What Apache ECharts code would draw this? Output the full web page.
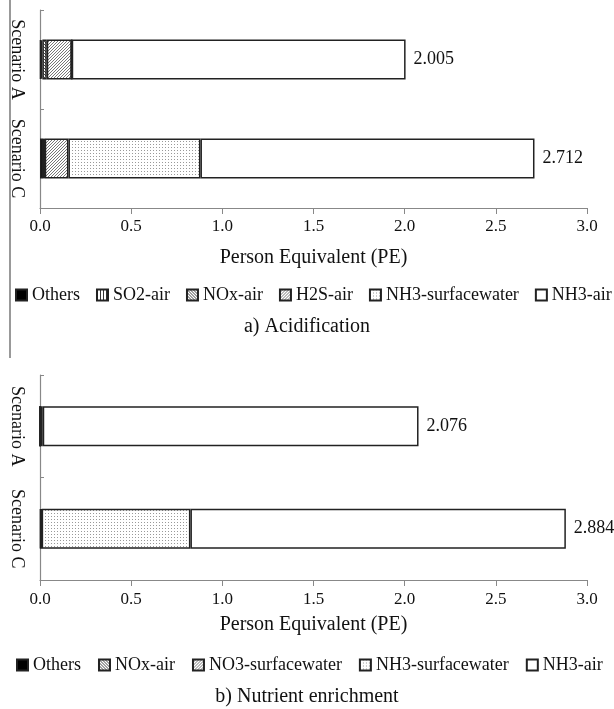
<!DOCTYPE html>
<html style="height: 100%;margin: 0;padding: 0;">
<head>
    <meta charset="utf-8">
    <title>Acidification / Nutrient enrichment</title>
    <script src="https://cdn.jsdelivr.net/npm/echarts@6/dist/echarts.min.js"></script>
</head>
<body style="margin:0;padding:0;background:#fff;">
<div id="main" style="width:614px;height:709px;"></div>
<script type="text/javascript">
// categories (top to bottom)
var scenarios = ['Scenario A', 'Scenario C'];
var xTicks = [0, 0.5, 1.0, 1.5, 2.0, 2.5, 3.0];

// a) Acidification, PE
var acidNames = ['Others', 'SO2-air', 'NOx-air', 'H2S-air', 'NH3-surfacewater', 'NH3-air'];
var acidOthers = [0.005, 0.018];
var acidSO2 = [0.008, 0.004];
var acidNOx = [0.024, 0.004];
var acidH2S = [0.137, 0.130];
var acidNH3sw = [0, 0.724];
var acidNH3air = [1.831, 1.832];
var acidTotal = [2.005, 2.712];

// b) Nutrient enrichment, PE
var nutNames = ['Others', 'NOx-air', 'NO3-surfacewater', 'NH3-surfacewater', 'NH3-air'];
var nutOthers = [0, 0.004];
var nutNOx = [0, 0.002];
var nutNO3 = [0, 0.003];
var nutNH3sw = [0.015, 0.816];
var nutNH3air = [2.061, 2.059];
var nutTotal = [2.076, 2.884];

var FONT = "'Liberation Serif', 'Times New Roman', serif";

// little canvas patterns for the hatched fills
function makePattern(kind) {
    var c = document.createElement('canvas');
    var s = 3;
    c.width = s; c.height = s;
    var g = c.getContext('2d');
    g.fillStyle = '#fff';
    g.fillRect(0, 0, s, s);
    if (kind == 'vert') { g.fillStyle = '#333'; g.fillRect(0, 0, 1, s); }
    if (kind == 'dots') { g.fillStyle = '#999'; g.fillRect(0, 0, 1, 1); }
    if (kind == 'back' || kind == 'fwd') {
        g.strokeStyle = kind == 'back' ? '#444' : '#777';
        g.lineWidth = 1;
        g.beginPath();
        for (var k = -s; k <= 2 * s; k += s) {
            if (kind == 'back') { g.moveTo(k, 0); g.lineTo(k + s, s); }
            else { g.moveTo(k, s); g.lineTo(k + s, 0); }
        }
        g.stroke();
    }
    return { image: c, repeat: 'repeat' };
}
var fills = {
    'Others': '#000',
    'SO2-air': makePattern('vert'),
    'NOx-air': makePattern('back'),
    'H2S-air': makePattern('fwd'),
    'NO3-surfacewater': makePattern('fwd'),
    'NH3-surfacewater': makePattern('dots'),
    'NH3-air': '#fff'
};

function seg(name, data, idx, stack, totals) {
    var s = {
        name: name, type: 'bar', stack: stack,
        xAxisIndex: idx, yAxisIndex: idx,
        barWidth: 40,
        data: data,
        itemStyle: { color: fills[name], borderColor: '#222', borderWidth: 1.5 },
        emphasis: { disabled: true }
    };
    if (totals) {
        s.label = {
            show: true, position: 'right', distance: 8,
            fontFamily: FONT, fontSize: 18, color: '#111',
            formatter: function (p) { return totals[p.dataIndex].toFixed(3); }
        };
    }
    return s;
}

function xAxisCfg(idx, margin, gap) {
    return {
        gridIndex: idx, type: 'value', min: 0, max: 3, interval: 0.5,
        axisLine: { show: true, lineStyle: { color: '#888', width: 1.2 } },
        axisTick: { show: true, length: 6, lineStyle: { color: '#888' } },
        splitLine: { show: false },
        axisLabel: {
            margin: margin, fontFamily: FONT, fontSize: 17, color: '#111',
            customValues: xTicks,
            formatter: function (v) { return v.toFixed(1); }
        },
        name: 'Person Equivalent (PE)', nameLocation: 'middle', nameGap: gap,
        nameTextStyle: { fontFamily: FONT, fontSize: 20, color: '#111' }
    };
}
function yAxisCfg(idx) {
    return {
        gridIndex: idx, type: 'category', data: scenarios, inverse: true,
        axisLine: { show: true, lineStyle: { color: '#888', width: 1.2 } },
        axisTick: { show: true, inside: true, length: 4, lineStyle: { color: '#888' } },
        axisLabel: { interval: 0, hideOverlap: false, rotate: -90, margin: 14,
                     fontFamily: FONT, fontSize: 18, color: '#111' }
    };
}

var myChart = echarts.init(document.getElementById('main'));
var option = {
    animation: false,
    backgroundColor: '#fff',
    title: [
        { text: 'a) Acidification', left: 'center', top: 312,
          textStyle: { fontFamily: FONT, fontSize: 20, fontWeight: 'normal', color: '#111' } },
        { text: 'b) Nutrient enrichment', left: 'center', top: 682,
          textStyle: { fontFamily: FONT, fontSize: 20, fontWeight: 'normal', color: '#111' } }
    ],
    legend: [
        { data: acidNames, left: 15, top: 286, width: 599, padding: 0,
          itemWidth: 11, itemHeight: 11, itemGap: 16,
          icon: 'rect', textStyle: { fontFamily: FONT, fontSize: 18, color: '#111' } },
        { data: nutNames, left: 16, top: 656, width: 598, padding: 0,
          itemWidth: 11, itemHeight: 11, itemGap: 17,
          icon: 'rect', textStyle: { fontFamily: FONT, fontSize: 18, color: '#111' } }
    ],
    grid: [
        { left: 40, right: 27, top: 10, height: 198 },
        { left: 40, right: 27, top: 375, height: 205 }
    ],
    xAxis: [xAxisCfg(0, 10, 40), xAxisCfg(1, 11, 35)],
    yAxis: [yAxisCfg(0), yAxisCfg(1)],
    graphic: [
        { type: 'line', shape: { x1: 10, y1: 0, x2: 10, y2: 358 },
          style: { stroke: '#777', lineWidth: 1.5 } }
    ],
    series: [
        seg('Others', acidOthers, 0, 'a'),
        seg('SO2-air', acidSO2, 0, 'a'),
        seg('NOx-air', acidNOx, 0, 'a'),
        seg('H2S-air', acidH2S, 0, 'a'),
        seg('NH3-surfacewater', acidNH3sw, 0, 'a'),
        seg('NH3-air', acidNH3air, 0, 'a', acidTotal),
        seg('Others', nutOthers, 1, 'b'),
        seg('NOx-air', nutNOx, 1, 'b'),
        seg('NO3-surfacewater', nutNO3, 1, 'b'),
        seg('NH3-surfacewater', nutNH3sw, 1, 'b'),
        seg('NH3-air', nutNH3air, 1, 'b', nutTotal)
    ]
};
myChart.setOption(option);
</script>
</body>
</html>
